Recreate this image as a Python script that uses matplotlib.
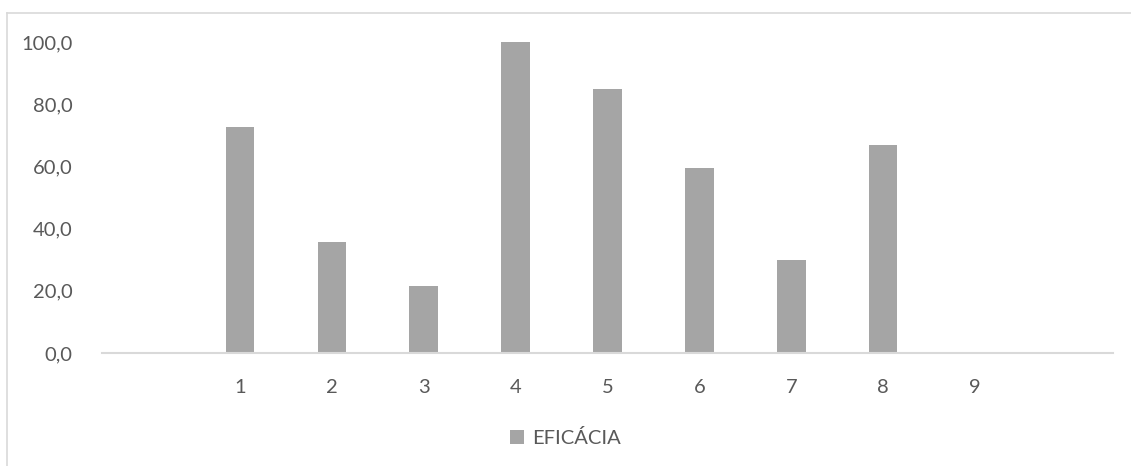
import numpy as np
import matplotlib
matplotlib.use("Agg")
import matplotlib.pyplot as plt
from matplotlib.lines import Line2D
from matplotlib.patches import Patch

# data (first and last categories are empty)
categories = ["", "1", "2", "3", "4", "5", "6", "7", "8", "9", ""]
eficacia = [0, 72.7, 35.7, 21.5, 100.0, 85.0, 59.7, 29.9, 67.1, 0, 0]
y_ticks = [0, 20, 40, 60, 80, 100]
y_labels = ["0,0", "20,0", "40,0", "60,0", "80,0", "100,0"]

bar_color = "#a5a5a5"
text_color = "#595959"
grid_color = "#d9d9d9"

plt.rcParams['font.family'] = ['Lato', 'DejaVu Sans']

fig = plt.figure(figsize=(11.31, 4.66), dpi=100)
ax = fig.add_axes([0.0902, 0.2425, 0.9841 - 0.0902, 0.9092 - 0.2425])

x = np.arange(len(categories))
ax.bar(x, eficacia, width=0.31, color=bar_color, zorder=2)

ax.set_xlim(-0.5, len(categories) - 0.5)
ax.set_ylim(0, 100)
ax.set_xticks(x)
ax.set_xticklabels(categories)
ax.set_yticks(y_ticks)
ax.set_yticklabels(y_labels)

for s in ["top", "right", "left"]:
    ax.spines[s].set_visible(False)
ax.spines["bottom"].set_color(grid_color)
ax.spines["bottom"].set_linewidth(1.5)
ax.spines["bottom"].set_zorder(3)

ax.tick_params(axis="both", length=0, labelsize=14.5, colors=text_color)
ax.tick_params(axis="y", pad=21)
ax.tick_params(axis="x", pad=19)

# legend below the plot
handles = [Patch(facecolor=bar_color, edgecolor="none", label="EFICÁCIA")]
leg = fig.legend(handles=handles, loc="center", bbox_to_anchor=(0.5, 1 - 438 / 466),
                 frameon=False, fontsize=14.5, handlelength=0.72, handleheight=0.72,
                 handletextpad=0.4)
for t in leg.get_texts():
    t.set_color(text_color)

# chart area border (only top and left are inside the picture)
fig.add_artist(Line2D([7 / 1131, 7 / 1131], [0, 1 - 13 / 466], color=grid_color, lw=1.2,
                      transform=fig.transFigure))
fig.add_artist(Line2D([7 / 1131, 1], [1 - 13 / 466, 1 - 13 / 466], color=grid_color, lw=1.2,
                      transform=fig.transFigure))

fig.savefig("out.png", dpi=100)
